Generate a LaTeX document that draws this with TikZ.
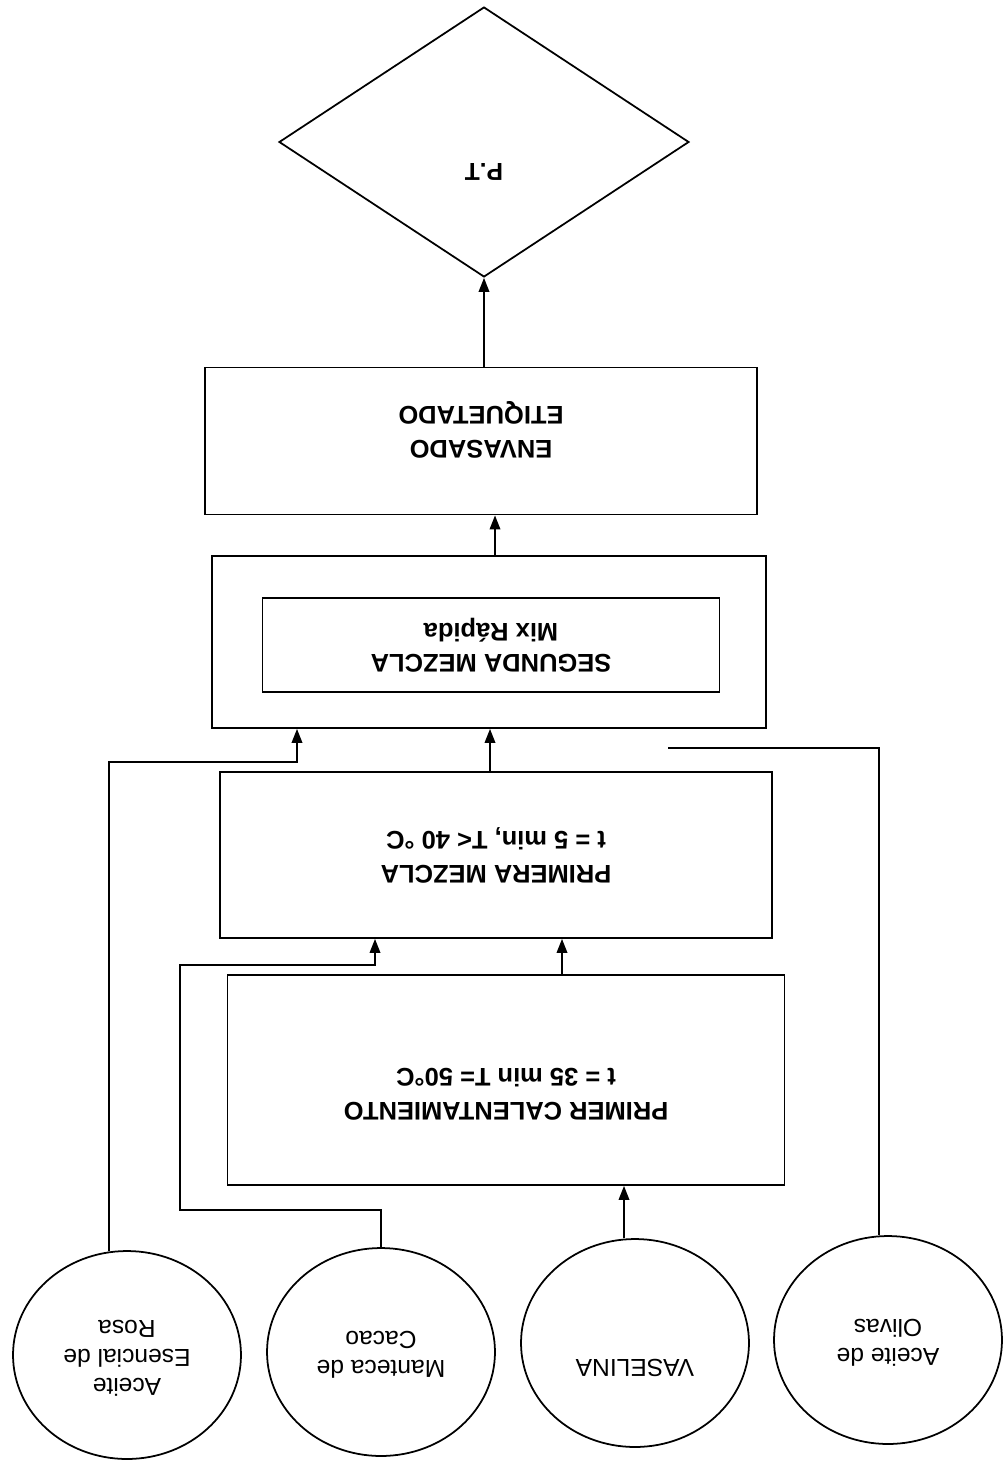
\documentclass[tikz,border=0pt]{standalone}
\usepackage{fontspec}
\setmainfont{Liberation Sans}
\usepackage{graphicx}
\usetikzlibrary{shapes.geometric,arrows.meta}
\newcommand{\upsd}[1]{\rotatebox{180}{\begin{tabular}{@{}c@{}}#1\end{tabular}}}
\begin{document}
\begin{tikzpicture}[x=0.02cm,y=-0.02cm, line width=1pt,
  box/.style={draw, rectangle, inner sep=0pt, font=\fontsize{14.5}{19.5}\bfseries\selectfont},
  ingr/.style={draw, ellipse, inner sep=0pt, minimum width=4.56cm, minimum height=4.16cm, font=\fontsize{14}{16.5}\selectfont},
  arr/.style={-{Triangle[length=8pt,width=6pt]}}]
\useasboundingbox (0,0) rectangle (1003,1461);

% final product
\node[draw, diamond, inner sep=0pt, minimum width=8.2cm, minimum height=5.4cm,
  font=\fontsize{14}{16}\bfseries\selectfont] (pt) at (484,142)
  {\smash{\raisebox{-0.43cm}{\rotatebox{180}{P\kern0pt.\kern0pt T}}}};

% process boxes
\node[box, minimum width=11.04cm, minimum height=2.94cm,
  label={[yshift=0.22cm, font=\fontsize{14.5}{19.5}\bfseries\selectfont]center:\upsd{ENVASADO\\ETIQUETADO}}] (env) at (481,441) {};
\node[box, minimum width=11.08cm, minimum height=3.44cm] (seg) at (489,642) {};
\node[box, minimum width=9.14cm, minimum height=1.88cm, font=\fontsize{14.5}{17.6}\bfseries\selectfont] (segin) at (491,645) {\upsd{SEGUNDA MEZCLA\\Mix Rápida}};
\node[box, minimum width=11.04cm, minimum height=3.32cm] (prim) at (496,855) {\upsd{PRIMERA MEZCLA\\t = 5 min, T< 40 °C}};
\node[box, minimum width=11.14cm, minimum height=4.2cm,
  label={[yshift=-0.24cm, font=\fontsize{14.5}{19.5}\bfseries\selectfont]center:\upsd{PRIMER CALENTAMIENTO\\t = 35 min T= 50°C}}] (cal) at (506,1080) {};

% ingredients
\node[ingr] (rosa) at (127,1355) {\upsd{Aceite\\Esencial de\\Rosa}};
\node[ingr] (man) at (381,1352) {\upsd{Manteca de\\Cacao}};
\node[ingr, label={[yshift=-0.45cm, font=\fontsize{14}{16.5}\selectfont]center:\upsd{VASELINA}}] (vas) at (635,1343) {};
\node[ingr] (oli) at (888,1340) {\upsd{Aceite de\\Olivas}};

\coordinate (olend) at (668,748);

% connectors
\draw[arr] (pt.south |- env.north) -- (pt.south);
\draw[arr] (495,0 |- seg.north) -- (495,0 |- env.south);
\draw[arr] (490,0 |- prim.north) -- (490,0 |- seg.south);
\draw[arr] (rosa.100) |- (297,762) -- (297,0 |- seg.south);
\draw (oli.95) |- (olend);
\draw[arr] (man.north) -- (man.north |- 0,1210) -| (180,965) -- (375,965) -- (375,0 |- prim.south);
\draw[arr] (562,0 |- cal.north) -- (562,0 |- prim.south);
\draw[arr] (624,0 |- vas.north) -- (624,0 |- cal.south);
\end{tikzpicture}
\end{document}
